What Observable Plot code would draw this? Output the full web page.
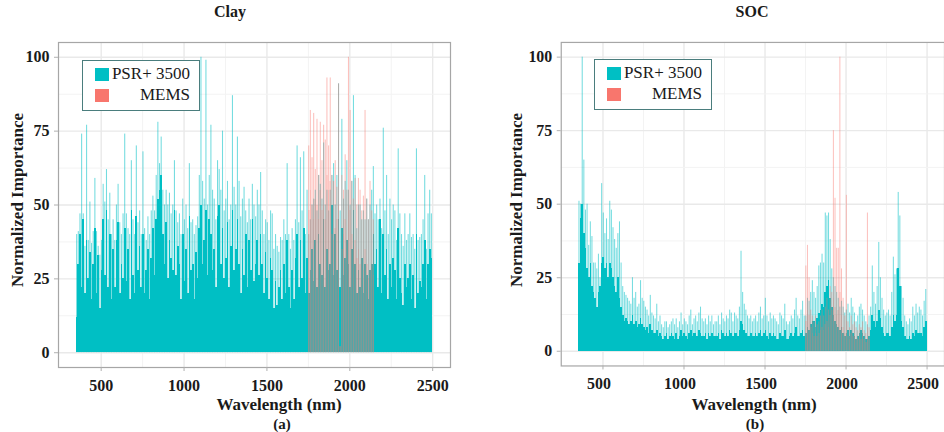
<!DOCTYPE html>
<html><head><meta charset="utf-8">
<script src="https://cdn.jsdelivr.net/npm/d3@7"></script>
<script src="https://cdn.jsdelivr.net/npm/@observablehq/plot@0.6"></script>
<style>
html,body{margin:0;padding:0;background:#fff;width:944px;height:432px;overflow:hidden;font-family:"Liberation Serif",serif;color:#1a1a1a;}
#wrap{position:relative;width:944px;height:432px;overflow:hidden;}
.svgbox{position:absolute;top:28px;}
.t{position:absolute;font-weight:bold;white-space:nowrap;transform:translate(-50%,-50%);}
.title{font-size:16px;}
.xlab{font-size:17px;}
.sub{font-size:15px;}
.ylab{font-size:17px;transform:translate(-50%,-50%) rotate(-90deg);}
.legend{position:absolute;border:1.5px solid #4a7d7d;background:#fff;width:116px;height:49px;}
.key{position:absolute;left:12px;width:14px;height:13px;}
.ltxt{position:absolute;right:9px;height:20px;line-height:20px;font-size:17px;white-space:nowrap;}
</style></head>
<body><div id="wrap"></div>
<script>
// ---- data (10 nm bins starting at 350 nm; MEMS bins start at 1750 nm) ----
const xTicks = [500, 1000, 1500, 2000, 2500];
const xMinor = [750, 1250, 1750, 2250];
const yTicks = [0, 25, 50, 75, 100];
const yMinor = [12.5, 37.5, 62.5, 87.5];
const psrStart = 350, memsStart = 1750, binWidth = 10;
const seriesNames = ["PSR+ 3500", "MEMS"];
const panelTitles = ["Clay", "SOC"];
const panelTags = ["(a)", "(b)"];

const clayPsrPeak = [
40,41,47,74,47,36,77,38,51,37,
41,59,41,36,33,38,57,51,62,45,
54,40,45,38,50,57,44,40,47,74,
47,42,40,65,45,40,70,44,48,40,
68,42,38,46,40,48,53,48,60,78,
64,73,55,50,55,50,54,47,50,65,
48,44,47,40,52,45,50,42,64,44,
45,40,43,46,60,100,58,52,99,50,
60,77,55,52,45,65,62,55,75,48,
52,58,45,50,87,56,50,73,58,46,
52,56,48,44,52,45,57,50,46,55,
50,61,48,40,45,44,38,48,47,35,
40,36,34,39,38,45,40,64,40,35,
42,38,45,70,44,66,48,68,40,55,
40,45,50,52,55,48,60,57,52,71,
50,55,48,55,60,64,50,60,91,48,
79,52,58,65,55,50,58,87,60,42,
50,50,45,48,45,52,45,50,55,63,
47,50,45,52,42,76,48,60,40,52,
45,50,48,38,69,47,40,36,47,38,
40,47,39,40,35,69,38,39,40,45,
60,35,47,55,47];
const clayPsrBase = [
12,30,40,22,45,20,38,25,34,18,
30,42,20,33,15,28,45,26,48,22,
40,18,35,22,38,44,20,30,25,42,
24,35,18,48,26,20,46,28,36,22,
40,20,28,35,18,32,42,26,45,52,
55,60,40,30,44,25,38,32,28,48,
26,36,30,18,40,24,35,20,46,28,
30,18,34,25,42,50,30,38,48,26,
45,40,28,35,22,46,50,30,42,25,
32,44,22,36,48,28,35,45,30,20,
35,26,40,22,38,28,45,24,30,38,
26,40,30,20,34,25,18,32,28,15,
24,16,22,28,18,30,20,38,22,15,
28,18,32,40,22,38,25,42,20,32,
20,28,35,24,38,22,40,30,26,45,
22,35,28,30,50,26,40,28,45,22,
42,26,32,38,30,22,35,48,30,20,
28,22,32,20,30,26,18,28,30,40,
30,35,22,45,20,40,26,35,18,30,
22,32,28,18,42,25,20,16,30,22,
25,30,18,26,15,40,20,24,22,30,
38,18,30,35,32];
const clayMemsPeak = [
70,82,66,81,62,79,60,78,65,77,
72,93,70,93,60,58,65,56,91,2,
60,55,67,55,100,82,58,52,59,50,
59,55,48,53,82,52,45,58,48,45];
const clayMemsBase = [
48,55,50,45,52,50,45,55,48,50,
45,60,55,58,40,38,42,45,50,2,
35,40,45,38,50,48,40,35,38,32,
35,30,32,28,35,30,25,28,30,26];

const socPsrPeak = [
51,50,100,65,48,50,36,44,39,30,
30,28,33,25,57,47,40,45,38,51,
48,42,38,35,40,44,30,22,20,19,
18,17,16,25,18,20,15,16,24,18,
17,15,14,12,19,13,12,11,16,10,
12,9,8,10,10,8,9,10,11,9,
11,8,10,13,9,11,10,9,12,14,
9,11,12,10,13,15,11,10,11,9,
12,10,12,9,10,10,12,9,13,11,
10,12,11,14,13,10,13,12,11,15,
34,20,16,14,12,11,12,10,11,12,
10,13,15,11,12,18,12,10,13,11,
12,11,10,9,13,12,11,16,10,9,
10,12,11,14,18,12,11,14,17,12,
12,18,17,20,24,20,18,22,29,30,
33,30,47,46,47,38,28,25,22,20,
18,15,17,15,13,14,16,13,18,15,
13,10,12,15,16,14,12,10,9,12,
15,29,20,16,22,37,25,18,14,12,
13,14,12,20,32,26,28,54,46,22,
18,12,10,9,11,10,15,12,16,13,
15,14,12,17,21];
const socPsrBase = [
30,45,50,40,35,28,25,30,22,20,
18,15,20,22,30,32,28,30,25,30,
28,25,22,20,25,18,15,12,10,11,
10,9,10,12,9,10,8,9,11,9,
8,7,8,6,9,7,6,6,7,5,
6,5,4,5,6,4,5,6,5,4,
6,4,5,7,5,6,5,4,6,7,
5,6,6,5,7,6,5,5,6,4,
6,5,6,5,5,5,6,4,7,6,
5,6,5,7,6,5,6,6,5,7,
10,9,7,6,5,5,6,5,5,6,
5,6,7,5,6,7,5,4,6,5,
6,5,4,4,6,5,5,7,4,4,
5,6,5,6,8,5,5,6,7,5,
6,8,7,9,10,10,8,11,13,14,
16,15,20,22,24,18,15,12,10,9,
8,7,8,6,5,6,7,5,7,6,
5,4,5,6,7,6,5,4,4,5,
7,12,10,8,10,14,11,8,6,5,
6,6,5,8,12,10,12,28,22,10,
8,5,4,4,5,4,6,5,7,6,
6,6,5,8,10];
const socMemsPeak = [
29,36,25,14,12,10,12,9,10,12,
14,12,15,18,14,22,20,75,52,35,
35,100,28,18,12,53,10,8,12,9,
10,8,7,9,8,10,7,6,47,8];
const socMemsBase = [
10,14,12,8,6,5,6,5,6,7,
8,7,9,10,8,12,14,18,15,12,
14,20,12,8,6,10,5,4,6,5,
5,4,4,5,4,5,4,3,8,4];

const TEAL = "#00BFC4", SALMON = "#F8766D";

function bins(values, start) {
  return values.map((v, i) => ({x1: start + i * binWidth, x2: start + (i + 1) * binWidth, v}));
}

function panel(psrPeak, psrBase, memsPeak, memsBase, width, marginRight) {
  return Plot.plot({
    width, height: 372,
    marginLeft: 58, marginRight, marginTop: 14, marginBottom: 33,
    x: {domain: [242.5, 2607.5]},
    y: {domain: [-5, 105]},
    style: {fontFamily: '"Liberation Serif", serif', fontSize: "16px", fontWeight: "bold", color: "#1a1a1a", background: "transparent"},
    marks: [
      Plot.gridX(xMinor, {stroke: "#f3f3f3", strokeOpacity: 1, strokeWidth: 1}),
      Plot.gridX(xTicks, {stroke: "#e9e9e9", strokeOpacity: 1, strokeWidth: 1.4}),
      Plot.gridY(yMinor, {stroke: "#f3f3f3", strokeOpacity: 1, strokeWidth: 1}),
      Plot.gridY(yTicks, {stroke: "#e9e9e9", strokeOpacity: 1, strokeWidth: 1.4}),
      Plot.rectY(bins(psrPeak, psrStart), {x1: "x1", x2: "x2", y: "v", fill: TEAL, fillOpacity: 0.55, insetLeft: 0.3, insetRight: 0.3}),
      Plot.rectY(bins(psrBase, psrStart), {x1: "x1", x2: "x2", y: "v", fill: TEAL, shapeRendering: "crispEdges"}),
      Plot.rectY(bins(memsPeak, memsStart), {x1: "x1", x2: "x2", y: "v", fill: SALMON, fillOpacity: 0.45, insetLeft: 0.3, insetRight: 0.3}),
      Plot.rectY(bins(memsBase, memsStart), {x1: "x1", x2: "x2", y: "v", fill: SALMON, fillOpacity: 0.2, shapeRendering: "crispEdges"}),
      Plot.frame({stroke: "#a6a6a6", strokeWidth: 1.2}),
      Plot.axisX(xTicks, {tickSize: 4, tickPadding: 8, stroke: "#b0b0b0", fill: "#1a1a1a", label: null, tickFormat: d3.format("d")}),
      Plot.axisY(yTicks, {tickSize: 4, tickPadding: 5, stroke: "#b0b0b0", fill: "#1a1a1a", label: null, tickFormat: d3.format("d")})
    ]
  });
}

const wrap = document.getElementById("wrap");
function addText(cls, txt, x, y) {
  const d = document.createElement("div");
  d.className = "t " + cls; d.textContent = txt;
  d.style.left = x + "px"; d.style.top = y + "px";
  wrap.appendChild(d);
}
function addLegend(left, top) {
  const L = document.createElement("div");
  L.className = "legend"; L.style.left = left + "px"; L.style.top = top + "px";
  const colors = [TEAL, SALMON];
  seriesNames.forEach((name, i) => {
    const k = document.createElement("div");
    k.className = "key"; k.style.background = colors[i]; k.style.top = (7 + i * 21) + "px";
    L.appendChild(k);
    const s = document.createElement("div");
    s.className = "ltxt"; s.textContent = name; s.style.top = (3 + i * 21) + "px";
    L.appendChild(s);
  });
  wrap.appendChild(L);
}

const panels = [
  {left: 0, chart: panel(clayPsrPeak, clayPsrBase, clayMemsPeak, clayMemsBase, 503, 53), title: 230, xlab: 279, tag: 282, ylab: 18, legend: [82, 60], shift: 0},
  {left: 503, chart: panel(socPsrPeak, socPsrBase, socMemsPeak, socMemsBase, 443, 0), title: 752, xlab: 754, tag: 755, ylab: 517, legend: [594, 59], shift: -4}
];
panels.forEach((p, i) => {
  const box = document.createElement("div");
  box.className = "svgbox"; box.style.left = p.left + "px";
  if (p.shift) {
    // nudge the x tick labels of the clipped right panel so "2500" stays inside the page
    p.chart.querySelectorAll('g[aria-label="x-axis tick label"] text').forEach(t => t.setAttribute("dx", p.shift));
  }
  box.appendChild(p.chart);
  wrap.appendChild(box);
  addText("title", panelTitles[i], p.title, 12);
  addText("xlab", "Wavelength (nm)", p.xlab, 405);
  addText("sub", panelTags[i], p.tag, 424);
  addText("ylab", "Normalized Importance", p.ylab, 200);
  addLegend(p.legend[0], p.legend[1]);
});
</script></body></html>
